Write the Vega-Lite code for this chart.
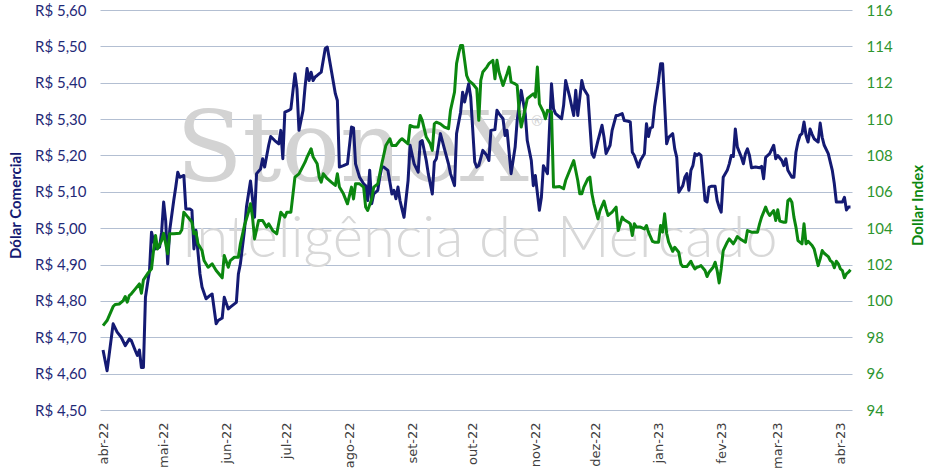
{
 "$schema": "https://vega.github.io/schema/vega-lite/v6.json",
 "width": 752, "height": 400,
 "autosize": {"type": "none"},
 "padding": {"left": 100, "top": 10, "right": 81, "bottom": 63},
 "background": "#ffffff",
 "config": {"view": {"stroke": null}},
 "datasets": {
  "brl": [
   {"d":"2022-04-01","v":4.665},{"d":"2022-04-03","v":4.608},{"d":"2022-04-06","v":4.737},{"d":"2022-04-08","v":4.714},{"d":"2022-04-10","v":4.700},{"d":"2022-04-12","v":4.677},{"d":"2022-04-14","v":4.695},{"d":"2022-04-15","v":4.691},{"d":"2022-04-17","v":4.663},{"d":"2022-04-18","v":4.650},{"d":"2022-04-19","v":4.665},{"d":"2022-04-20","v":4.617},{"d":"2022-04-21","v":4.617},{"d":"2022-04-22","v":4.810},{"d":"2022-04-23","v":4.847},{"d":"2022-04-24","v":4.883},{"d":"2022-04-25","v":4.989},{"d":"2022-04-27","v":4.943},{"d":"2022-04-29","v":4.948},{"d":"2022-04-30","v":4.989},
   {"d":"2022-05-01","v":5.072},{"d":"2022-05-02","v":5.021},{"d":"2022-05-03","v":4.902},{"d":"2022-05-04","v":4.994},{"d":"2022-05-06","v":5.076},{"d":"2022-05-07","v":5.113},{"d":"2022-05-08","v":5.154},{"d":"2022-05-09","v":5.140},{"d":"2022-05-11","v":5.145},{"d":"2022-05-12","v":5.053},{"d":"2022-05-14","v":5.053},{"d":"2022-05-15","v":5.049},{"d":"2022-05-16","v":4.943},{"d":"2022-05-17","v":4.994},{"d":"2022-05-19","v":4.874},{"d":"2022-05-20","v":4.838},{"d":"2022-05-22","v":4.806},{"d":"2022-05-24","v":4.815},{"d":"2022-05-25","v":4.819},{"d":"2022-05-27","v":4.737},{"d":"2022-05-28","v":4.746},{"d":"2022-05-30","v":4.753},{"d":"2022-05-31","v":4.810},
   {"d":"2022-06-02","v":4.778},{"d":"2022-06-03","v":4.783},{"d":"2022-06-06","v":4.796},{"d":"2022-06-07","v":4.874},{"d":"2022-06-08","v":4.902},{"d":"2022-06-10","v":4.994},{"d":"2022-06-11","v":5.058},{"d":"2022-06-13","v":5.130},{"d":"2022-06-15","v":5.030},{"d":"2022-06-16","v":5.150},{"d":"2022-06-18","v":5.163},{"d":"2022-06-19","v":5.191},{"d":"2022-06-20","v":5.168},{"d":"2022-06-22","v":5.228},{"d":"2022-06-23","v":5.252},{"d":"2022-06-25","v":5.241},{"d":"2022-06-27","v":5.232},{"d":"2022-06-28","v":5.269},{"d":"2022-06-29","v":5.191},{"d":"2022-06-30","v":5.319},
   {"d":"2022-07-02","v":5.324},{"d":"2022-07-03","v":5.328},{"d":"2022-07-05","v":5.425},{"d":"2022-07-06","v":5.383},{"d":"2022-07-07","v":5.269},{"d":"2022-07-09","v":5.324},{"d":"2022-07-10","v":5.388},{"d":"2022-07-11","v":5.439},{"d":"2022-07-12","v":5.406},{"d":"2022-07-13","v":5.429},{"d":"2022-07-14","v":5.406},{"d":"2022-07-15","v":5.416},{"d":"2022-07-16","v":5.420},{"d":"2022-07-18","v":5.429},{"d":"2022-07-20","v":5.494},{"d":"2022-07-21","v":5.498},{"d":"2022-07-23","v":5.434},{"d":"2022-07-25","v":5.370},{"d":"2022-07-26","v":5.351},{"d":"2022-07-27","v":5.168},{"d":"2022-07-29","v":5.172},{"d":"2022-07-31","v":5.177},
   {"d":"2022-08-02","v":5.278},{"d":"2022-08-03","v":5.276},{"d":"2022-08-04","v":5.177},{"d":"2022-08-06","v":5.140},{"d":"2022-08-08","v":5.122},{"d":"2022-08-09","v":5.117},{"d":"2022-08-10","v":5.076},{"d":"2022-08-11","v":5.159},{"d":"2022-08-12","v":5.067},{"d":"2022-08-13","v":5.094},{"d":"2022-08-15","v":5.104},{"d":"2022-08-16","v":5.140},{"d":"2022-08-17","v":5.168},{"d":"2022-08-18","v":5.168},{"d":"2022-08-20","v":5.159},{"d":"2022-08-22","v":5.094},{"d":"2022-08-23","v":5.104},{"d":"2022-08-24","v":5.081},{"d":"2022-08-25","v":5.113},{"d":"2022-08-26","v":5.076},{"d":"2022-08-28","v":5.030},{"d":"2022-08-30","v":5.131},{"d":"2022-08-31","v":5.228},
   {"d":"2022-09-02","v":5.177},{"d":"2022-09-04","v":5.154},{"d":"2022-09-05","v":5.237},{"d":"2022-09-06","v":5.241},{"d":"2022-09-08","v":5.186},{"d":"2022-09-09","v":5.150},{"d":"2022-09-11","v":5.094},{"d":"2022-09-12","v":5.182},{"d":"2022-09-13","v":5.191},{"d":"2022-09-15","v":5.260},{"d":"2022-09-17","v":5.218},{"d":"2022-09-19","v":5.177},{"d":"2022-09-20","v":5.150},{"d":"2022-09-22","v":5.117},{"d":"2022-09-23","v":5.260},{"d":"2022-09-25","v":5.319},{"d":"2022-09-26","v":5.374},{"d":"2022-09-27","v":5.347},{"d":"2022-09-29","v":5.397},{"d":"2022-09-30","v":5.361},
   {"d":"2022-10-02","v":5.182},{"d":"2022-10-03","v":5.168},{"d":"2022-10-04","v":5.172},{"d":"2022-10-06","v":5.214},{"d":"2022-10-08","v":5.200},{"d":"2022-10-09","v":5.186},{"d":"2022-10-10","v":5.269},{"d":"2022-10-12","v":5.271},{"d":"2022-10-13","v":5.324},{"d":"2022-10-14","v":5.315},{"d":"2022-10-16","v":5.301},{"d":"2022-10-17","v":5.255},{"d":"2022-10-18","v":5.269},{"d":"2022-10-20","v":5.150},{"d":"2022-10-22","v":5.223},{"d":"2022-10-23","v":5.296},{"d":"2022-10-25","v":5.379},{"d":"2022-10-27","v":5.315},{"d":"2022-10-28","v":5.241},{"d":"2022-10-30","v":5.186},{"d":"2022-10-31","v":5.117},
   {"d":"2022-11-01","v":5.145},{"d":"2022-11-03","v":5.049},{"d":"2022-11-04","v":5.085},{"d":"2022-11-05","v":5.172},{"d":"2022-11-07","v":5.150},{"d":"2022-11-09","v":5.397},{"d":"2022-11-10","v":5.328},{"d":"2022-11-11","v":5.315},{"d":"2022-11-14","v":5.301},{"d":"2022-11-15","v":5.338},{"d":"2022-11-16","v":5.406},{"d":"2022-11-18","v":5.361},{"d":"2022-11-20","v":5.310},{"d":"2022-11-21","v":5.379},{"d":"2022-11-22","v":5.310},{"d":"2022-11-24","v":5.406},{"d":"2022-11-25","v":5.383},{"d":"2022-11-27","v":5.365},{"d":"2022-11-29","v":5.205},{"d":"2022-11-30","v":5.195},
   {"d":"2022-12-02","v":5.241},{"d":"2022-12-04","v":5.283},{"d":"2022-12-05","v":5.250},{"d":"2022-12-06","v":5.205},{"d":"2022-12-08","v":5.228},{"d":"2022-12-09","v":5.269},{"d":"2022-12-11","v":5.310},{"d":"2022-12-12","v":5.310},{"d":"2022-12-14","v":5.315},{"d":"2022-12-15","v":5.296},{"d":"2022-12-17","v":5.294},{"d":"2022-12-18","v":5.292},{"d":"2022-12-19","v":5.209},{"d":"2022-12-20","v":5.200},{"d":"2022-12-22","v":5.168},{"d":"2022-12-23","v":5.186},{"d":"2022-12-25","v":5.205},{"d":"2022-12-26","v":5.287},{"d":"2022-12-27","v":5.252},{"d":"2022-12-28","v":5.276},{"d":"2022-12-29","v":5.278},{"d":"2022-12-30","v":5.333},
   {"d":"2023-01-01","v":5.406},{"d":"2023-01-02","v":5.452},{"d":"2023-01-03","v":5.452},{"d":"2023-01-04","v":5.342},{"d":"2023-01-05","v":5.232},{"d":"2023-01-06","v":5.250},{"d":"2023-01-08","v":5.260},{"d":"2023-01-09","v":5.218},{"d":"2023-01-10","v":5.195},{"d":"2023-01-11","v":5.099},{"d":"2023-01-13","v":5.117},{"d":"2023-01-14","v":5.140},{"d":"2023-01-15","v":5.150},{"d":"2023-01-16","v":5.104},{"d":"2023-01-17","v":5.159},{"d":"2023-01-18","v":5.172},{"d":"2023-01-19","v":5.205},{"d":"2023-01-20","v":5.200},{"d":"2023-01-21","v":5.205},{"d":"2023-01-22","v":5.200},{"d":"2023-01-24","v":5.076},{"d":"2023-01-25","v":5.072},{"d":"2023-01-26","v":5.113},{"d":"2023-01-27","v":5.115},{"d":"2023-01-29","v":5.115},{"d":"2023-01-30","v":5.076},{"d":"2023-01-31","v":5.058},
   {"d":"2023-02-01","v":5.044},{"d":"2023-02-02","v":5.140},{"d":"2023-02-04","v":5.159},{"d":"2023-02-05","v":5.177},{"d":"2023-02-06","v":5.200},{"d":"2023-02-07","v":5.197},{"d":"2023-02-08","v":5.273},{"d":"2023-02-09","v":5.223},{"d":"2023-02-11","v":5.195},{"d":"2023-02-12","v":5.177},{"d":"2023-02-13","v":5.205},{"d":"2023-02-14","v":5.218},{"d":"2023-02-15","v":5.200},{"d":"2023-02-16","v":5.166},{"d":"2023-02-18","v":5.168},{"d":"2023-02-20","v":5.166},{"d":"2023-02-21","v":5.170},{"d":"2023-02-22","v":5.136},{"d":"2023-02-23","v":5.195},{"d":"2023-02-25","v":5.205},{"d":"2023-02-27","v":5.228},{"d":"2023-02-28","v":5.191},
   {"d":"2023-03-01","v":5.200},{"d":"2023-03-03","v":5.186},{"d":"2023-03-04","v":5.172},{"d":"2023-03-05","v":5.191},{"d":"2023-03-06","v":5.159},{"d":"2023-03-08","v":5.140},{"d":"2023-03-09","v":5.140},{"d":"2023-03-10","v":5.209},{"d":"2023-03-11","v":5.237},{"d":"2023-03-12","v":5.255},{"d":"2023-03-13","v":5.260},{"d":"2023-03-14","v":5.292},{"d":"2023-03-15","v":5.255},{"d":"2023-03-16","v":5.237},{"d":"2023-03-17","v":5.273},{"d":"2023-03-18","v":5.258},{"d":"2023-03-19","v":5.246},{"d":"2023-03-21","v":5.237},{"d":"2023-03-22","v":5.289},{"d":"2023-03-23","v":5.250},{"d":"2023-03-24","v":5.228},{"d":"2023-03-26","v":5.205},{"d":"2023-03-28","v":5.159},{"d":"2023-03-29","v":5.122},{"d":"2023-03-30","v":5.072},
   {"d":"2023-04-01","v":5.072},{"d":"2023-04-02","v":5.072},{"d":"2023-04-03","v":5.085},{"d":"2023-04-04","v":5.050},{"d":"2023-04-05","v":5.058},{"d":"2023-04-06","v":5.058}
  ],
  "dxy": [
   {"d":"2022-04-01","v":98.64},{"d":"2022-04-03","v":98.92},{"d":"2022-04-06","v":99.69},{"d":"2022-04-07","v":99.80},{"d":"2022-04-09","v":99.83},{"d":"2022-04-11","v":100.02},{"d":"2022-04-12","v":100.24},{"d":"2022-04-13","v":99.93},{"d":"2022-04-14","v":100.29},{"d":"2022-04-15","v":100.39},{"d":"2022-04-17","v":100.66},{"d":"2022-04-19","v":100.94},{"d":"2022-04-20","v":100.42},{"d":"2022-04-21","v":101.16},{"d":"2022-04-23","v":101.49},{"d":"2022-04-25","v":101.76},{"d":"2022-04-26","v":102.77},{"d":"2022-04-27","v":103.60},{"d":"2022-04-28","v":102.86},{"d":"2022-04-30","v":103.32},
   {"d":"2022-05-01","v":103.72},{"d":"2022-05-03","v":102.59},{"d":"2022-05-04","v":103.69},{"d":"2022-05-06","v":103.69},{"d":"2022-05-09","v":103.72},{"d":"2022-05-10","v":103.91},{"d":"2022-05-11","v":104.88},{"d":"2022-05-13","v":104.61},{"d":"2022-05-15","v":104.33},{"d":"2022-05-16","v":103.69},{"d":"2022-05-17","v":103.78},{"d":"2022-05-18","v":103.14},{"d":"2022-05-20","v":102.77},{"d":"2022-05-21","v":102.22},{"d":"2022-05-23","v":101.85},{"d":"2022-05-25","v":102.04},{"d":"2022-05-27","v":101.67},{"d":"2022-05-30","v":101.27},{"d":"2022-05-31","v":102.50},
   {"d":"2022-06-02","v":101.85},{"d":"2022-06-03","v":102.22},{"d":"2022-06-05","v":102.40},{"d":"2022-06-07","v":102.40},{"d":"2022-06-08","v":103.14},{"d":"2022-06-10","v":104.15},{"d":"2022-06-12","v":104.88},{"d":"2022-06-13","v":105.34},{"d":"2022-06-14","v":104.61},{"d":"2022-06-15","v":103.41},{"d":"2022-06-17","v":104.42},{"d":"2022-06-19","v":104.42},{"d":"2022-06-21","v":104.06},{"d":"2022-06-22","v":104.24},{"d":"2022-06-24","v":103.87},{"d":"2022-06-26","v":103.69},{"d":"2022-06-28","v":104.88},{"d":"2022-06-30","v":104.61},
   {"d":"2022-07-01","v":104.88},{"d":"2022-07-03","v":104.88},{"d":"2022-07-05","v":106.81},{"d":"2022-07-07","v":106.99},{"d":"2022-07-10","v":107.63},{"d":"2022-07-11","v":107.91},{"d":"2022-07-13","v":108.37},{"d":"2022-07-14","v":107.91},{"d":"2022-07-16","v":107.54},{"d":"2022-07-17","v":106.81},{"d":"2022-07-18","v":106.53},{"d":"2022-07-19","v":106.99},{"d":"2022-07-21","v":106.72},{"d":"2022-07-23","v":106.53},{"d":"2022-07-25","v":106.35},{"d":"2022-07-26","v":106.99},{"d":"2022-07-27","v":106.26},{"d":"2022-07-29","v":105.89},{"d":"2022-07-31","v":105.34},
   {"d":"2022-08-02","v":106.26},{"d":"2022-08-03","v":105.61},{"d":"2022-08-04","v":106.44},{"d":"2022-08-06","v":106.44},{"d":"2022-08-08","v":106.26},{"d":"2022-08-09","v":105.16},{"d":"2022-08-10","v":104.97},{"d":"2022-08-12","v":105.61},{"d":"2022-08-13","v":106.26},{"d":"2022-08-15","v":106.44},{"d":"2022-08-17","v":107.54},{"d":"2022-08-19","v":108.55},{"d":"2022-08-21","v":108.92},{"d":"2022-08-22","v":108.55},{"d":"2022-08-24","v":108.55},{"d":"2022-08-26","v":108.83},{"d":"2022-08-27","v":108.92},{"d":"2022-08-30","v":108.64},{"d":"2022-08-31","v":109.65},
   {"d":"2022-09-02","v":109.56},{"d":"2022-09-04","v":109.56},{"d":"2022-09-05","v":110.20},{"d":"2022-09-06","v":109.93},{"d":"2022-09-08","v":109.01},{"d":"2022-09-10","v":108.64},{"d":"2022-09-11","v":108.28},{"d":"2022-09-12","v":109.74},{"d":"2022-09-13","v":109.83},{"d":"2022-09-15","v":109.74},{"d":"2022-09-17","v":109.56},{"d":"2022-09-19","v":109.47},{"d":"2022-09-20","v":110.48},{"d":"2022-09-22","v":111.49},{"d":"2022-09-23","v":113.05},{"d":"2022-09-24","v":113.60},{"d":"2022-09-25","v":114.05},{"d":"2022-09-26","v":114.05},{"d":"2022-09-27","v":113.23},{"d":"2022-09-28","v":112.40},{"d":"2022-09-29","v":112.13},
   {"d":"2022-10-01","v":111.94},{"d":"2022-10-03","v":111.67},{"d":"2022-10-04","v":109.93},{"d":"2022-10-05","v":112.13},{"d":"2022-10-06","v":112.59},{"d":"2022-10-08","v":112.86},{"d":"2022-10-09","v":113.05},{"d":"2022-10-11","v":113.23},{"d":"2022-10-12","v":112.22},{"d":"2022-10-13","v":113.23},{"d":"2022-10-14","v":112.59},{"d":"2022-10-16","v":111.85},{"d":"2022-10-18","v":112.50},{"d":"2022-10-19","v":112.86},{"d":"2022-10-20","v":112.04},{"d":"2022-10-22","v":111.94},{"d":"2022-10-23","v":111.85},{"d":"2022-10-24","v":110.39},{"d":"2022-10-25","v":109.56},{"d":"2022-10-27","v":110.57},{"d":"2022-10-28","v":111.12},{"d":"2022-10-30","v":111.30},{"d":"2022-10-31","v":111.39},
   {"d":"2022-11-01","v":111.21},{"d":"2022-11-02","v":112.86},{"d":"2022-11-03","v":110.84},{"d":"2022-11-05","v":110.39},{"d":"2022-11-06","v":110.02},{"d":"2022-11-07","v":110.48},{"d":"2022-11-09","v":110.39},{"d":"2022-11-10","v":106.26},{"d":"2022-11-11","v":106.26},{"d":"2022-11-13","v":106.29},{"d":"2022-11-15","v":106.17},{"d":"2022-11-16","v":106.62},{"d":"2022-11-20","v":107.72},{"d":"2022-11-22","v":106.62},{"d":"2022-11-23","v":105.89},{"d":"2022-11-24","v":105.89},{"d":"2022-11-25","v":106.26},{"d":"2022-11-27","v":106.72},{"d":"2022-11-28","v":106.81},{"d":"2022-11-29","v":105.89},{"d":"2022-11-30","v":105.34},
   {"d":"2022-12-02","v":104.51},{"d":"2022-12-03","v":104.97},{"d":"2022-12-05","v":105.49},{"d":"2022-12-06","v":105.06},{"d":"2022-12-07","v":104.70},{"d":"2022-12-09","v":104.88},{"d":"2022-12-11","v":105.16},{"d":"2022-12-12","v":103.87},{"d":"2022-12-14","v":104.61},{"d":"2022-12-15","v":104.46},{"d":"2022-12-17","v":104.33},{"d":"2022-12-18","v":104.24},{"d":"2022-12-19","v":103.60},{"d":"2022-12-20","v":104.24},{"d":"2022-12-21","v":104.06},{"d":"2022-12-23","v":104.06},{"d":"2022-12-25","v":103.96},{"d":"2022-12-26","v":104.15},{"d":"2022-12-27","v":103.78},{"d":"2022-12-29","v":103.28},{"d":"2022-12-30","v":103.23},
   {"d":"2023-01-01","v":103.23},{"d":"2023-01-02","v":104.15},{"d":"2023-01-03","v":103.78},{"d":"2023-01-04","v":104.79},{"d":"2023-01-05","v":103.72},{"d":"2023-01-06","v":103.23},{"d":"2023-01-08","v":102.73},{"d":"2023-01-09","v":102.95},{"d":"2023-01-11","v":102.68},{"d":"2023-01-12","v":102.04},{"d":"2023-01-13","v":101.89},{"d":"2023-01-15","v":101.89},{"d":"2023-01-16","v":102.04},{"d":"2023-01-17","v":102.18},{"d":"2023-01-18","v":101.94},{"d":"2023-01-19","v":101.76},{"d":"2023-01-20","v":101.85},{"d":"2023-01-21","v":101.89},{"d":"2023-01-22","v":101.94},{"d":"2023-01-24","v":101.67},{"d":"2023-01-25","v":101.34},{"d":"2023-01-26","v":101.58},{"d":"2023-01-28","v":101.85},{"d":"2023-01-29","v":102.13},{"d":"2023-01-30","v":101.67},{"d":"2023-01-31","v":100.99},
   {"d":"2023-02-01","v":101.76},{"d":"2023-02-02","v":102.77},{"d":"2023-02-04","v":103.23},{"d":"2023-02-05","v":103.41},{"d":"2023-02-07","v":103.14},{"d":"2023-02-08","v":103.32},{"d":"2023-02-09","v":103.54},{"d":"2023-02-11","v":103.36},{"d":"2023-02-13","v":103.23},{"d":"2023-02-14","v":103.87},{"d":"2023-02-16","v":103.78},{"d":"2023-02-19","v":103.78},{"d":"2023-02-20","v":104.24},{"d":"2023-02-21","v":104.61},{"d":"2023-02-23","v":105.16},{"d":"2023-02-24","v":104.88},{"d":"2023-02-25","v":104.70},{"d":"2023-02-27","v":104.97},{"d":"2023-02-28","v":104.42},
   {"d":"2023-03-01","v":105.01},{"d":"2023-03-02","v":104.39},{"d":"2023-03-04","v":104.33},{"d":"2023-03-05","v":104.33},{"d":"2023-03-06","v":105.52},{"d":"2023-03-07","v":105.61},{"d":"2023-03-08","v":105.43},{"d":"2023-03-09","v":104.61},{"d":"2023-03-10","v":104.06},{"d":"2023-03-11","v":103.32},{"d":"2023-03-13","v":103.14},{"d":"2023-03-14","v":104.24},{"d":"2023-03-15","v":103.14},{"d":"2023-03-16","v":103.28},{"d":"2023-03-18","v":103.05},{"d":"2023-03-19","v":102.86},{"d":"2023-03-21","v":101.94},{"d":"2023-03-22","v":102.31},{"d":"2023-03-23","v":102.77},{"d":"2023-03-24","v":102.62},{"d":"2023-03-26","v":102.44},{"d":"2023-03-27","v":102.22},{"d":"2023-03-28","v":102.13},{"d":"2023-03-29","v":101.82},{"d":"2023-03-30","v":102.18},{"d":"2023-03-31","v":102.04},
   {"d":"2023-04-01","v":101.76},{"d":"2023-04-02","v":101.67},{"d":"2023-04-03","v":101.27},{"d":"2023-04-04","v":101.49},{"d":"2023-04-05","v":101.58},{"d":"2023-04-06","v":101.71}
  ],
  "marca": [{"t1":"StoneX","t2":"®","t3":"Inteligência de Mercado"}]
 },
 "layer": [
  {
   "data": {"name": "marca"},
   "mark": {"type": "text", "font": "DejaVu Serif", "fontSize": 97, "color": "#d3d3d3", "align": "center", "baseline": "alphabetic"},
   "encoding": {
    "text": {"field": "t1"},
    "x": {
     "datum": {"year": 2022, "month": 8, "date": 2, "hours": 12}, "type": "temporal",
     "scale": {"domain": [{"year": 2022, "month": 3, "date": 30, "hours": 12}, {"year": 2023, "month": 4, "date": 6, "hours": 18}]},
     "axis": {
      "title": null, "domain": false, "ticks": false, "grid": false,
      "values": [{"year": 2022, "month": 4, "date": 1}, {"year": 2022, "month": 5, "date": 1}, {"year": 2022, "month": 6, "date": 1}, {"year": 2022, "month": 7, "date": 1}, {"year": 2022, "month": 8, "date": 1}, {"year": 2022, "month": 9, "date": 1}, {"year": 2022, "month": 10, "date": 1}, {"year": 2022, "month": 11, "date": 1}, {"year": 2022, "month": 12, "date": 1}, {"year": 2023, "month": 1, "date": 1}, {"year": 2023, "month": 2, "date": 1}, {"year": 2023, "month": 3, "date": 1}, {"year": 2023, "month": 4, "date": 1}],
      "labelExpr": "['jan','fev','mar','abr','mai','jun','jul','ago','set','out','nov','dez'][month(datum.value)] + '-' + timeFormat(datum.value, '%y')",
      "labelAngle": -90, "labelFont": "DejaVu Sans", "labelFontSize": 13, "labelColor": "#404040", "labelPadding": 12, "labelFlush": false, "labelOverlap": false, "labelBound": false
     }
    },
    "y": {"datum": 5.129, "type": "quantitative", "axis": null, "scale": {"domain": [4.5, 5.6], "nice": false, "zero": false}}
   }
  },
  {
   "data": {"name": "marca"},
   "mark": {"type": "text", "font": "DejaVu Sans", "fontSize": 14, "color": "#d3d3d3", "align": "center", "baseline": "middle"},
   "encoding": {
    "text": {"field": "t2"},
    "x": {"datum": {"year": 2022, "month": 11, "date": 1, "hours": 21}, "type": "temporal"},
    "y": {"datum": 5.291, "type": "quantitative", "axis": null, "scale": {"domain": [4.5, 5.6], "nice": false, "zero": false}}
   }
  },
  {
   "data": {"name": "marca"},
   "mark": {"type": "text", "font": "Lato", "fontWeight": 300, "fontSize": 58, "color": "#d8d8d8", "align": "center", "baseline": "alphabetic"},
   "encoding": {
    "text": {"field": "t3"},
    "x": {"datum": {"year": 2022, "month": 10, "date": 4, "hours": 10}, "type": "temporal"},
    "y": {"datum": 4.92, "type": "quantitative", "axis": null, "scale": {"domain": [4.5, 5.6], "nice": false, "zero": false}}
   }
  },
  {
   "data": {"name": "brl"},
   "mark": {"type": "line", "color": "#141a73", "strokeWidth": 3, "strokeJoin": "round"},
   "encoding": {
    "x": {"field": "d", "type": "temporal"},
    "y": {
     "field": "v", "type": "quantitative",
     "scale": {"domain": [4.5, 5.6], "nice": false, "zero": false},
     "axis": {
      "orient": "left", "values": [4.5, 4.6, 4.7, 4.8, 4.9, 5.0, 5.1, 5.2, 5.3, 5.4, 5.5, 5.6],
      "labelExpr": "'R$ ' + replace(format(datum.value, '.2f'), '.', ',')",
      "grid": true, "gridColor": "#b3bfd2", "gridWidth": 1, "domain": false, "ticks": false,
      "labelFont": "Lato", "labelFontSize": 15, "labelColor": "#1f2a78", "labelPadding": 14,
      "title": "Dólar Comercial", "titleFont": "Lato", "titleFontSize": 15, "titleFontWeight": "bold", "titleColor": "#141a73",
      "titleX": -85, "titleY": 195, "titleAngle": -90, "titleAlign": "center", "titleBaseline": "middle"
     }
    }
   }
  },
  {
   "data": {"name": "dxy"},
   "mark": {"type": "line", "color": "#0b870f", "strokeWidth": 3, "strokeJoin": "round"},
   "encoding": {
    "x": {"field": "d", "type": "temporal"},
    "y": {
     "field": "v", "type": "quantitative",
     "scale": {"domain": [94, 116], "nice": false, "zero": false},
     "axis": {
      "orient": "right", "values": [94, 96, 98, 100, 102, 104, 106, 108, 110, 112, 114, 116],
      "grid": false, "domain": false, "ticks": false,
      "labelFont": "Lato", "labelFontSize": 15, "labelColor": "#2e952e", "labelPadding": 14,
      "title": "Dollar Index", "titleFont": "Lato", "titleFontSize": 15, "titleFontWeight": "bold", "titleColor": "#0b870f",
      "titleX": 65, "titleY": 195, "titleAngle": -90, "titleAlign": "center", "titleBaseline": "middle"
     }
    }
   }
  }
 ],
 "resolve": {"scale": {"y": "independent"}, "axis": {"y": "independent"}}
}
